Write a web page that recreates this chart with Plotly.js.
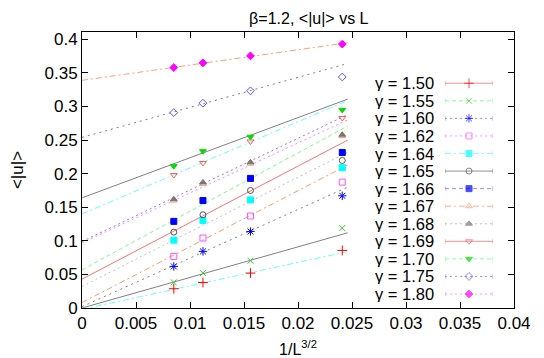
<!DOCTYPE html>
<html><head><meta charset="utf-8">
<script src="https://cdn.plot.ly/plotly-3.0.1.min.js"></script>
<style>html,body{margin:0;padding:0;background:#fff}#chart{width:544px;height:358px}</style>
</head><body><div id="chart"></div>
<script>
// ---- data ----
const gammaLabels = ['1.50','1.55','1.60','1.62','1.64','1.65','1.66','1.67','1.68','1.69','1.70','1.75','1.80'];
const invL32 = [0.0085, 0.0112, 0.0156, 0.0241];   // 1/L^{3/2} for L = 24, 20, 16, 12
const u150 = [0.0287, 0.038, 0.052, 0.0857];
const u155 = [0.0381, 0.052, 0.0704, 0.119];
const u160 = [0.0619, 0.0843, 0.114, 0.167];
const u162 = [0.0768, 0.1042, 0.137, 0.1875];
const u164 = [0.101, 0.1304, 0.161, 0.209];
const u165 = [0.113, 0.1388, 0.175, 0.2197];
const u166 = [0.129, 0.160, 0.193, 0.2316];
const u167 = [0.160, 0.185, 0.215, 0.256];
const u168 = [0.162, 0.187, 0.217, 0.258];
const u169 = [0.198, 0.216, 0.248, 0.283];
const u170 = [0.2113, 0.2336, 0.255, 0.295];
const u175 = [0.291, 0.305, 0.3234, 0.344];
const u180 = [0.358, 0.365, 0.3754, 0.393];
const seriesValues = [u150,u155,u160,u162,u164,u165,u166,u167,u168,u169,u170,u175,u180];
// linear fits: value at x=0 and at the end of the drawn segment
const fitX = [0, 0.0246];
const fitStart = [-0.002, 0.000, 0.002, 0.008, 0.032, 0.043, 0.057, 0.099, 0.097, 0.140, 0.164, 0.254, 0.339];
const fitEnd   = [0.084, 0.112, 0.180, 0.213, 0.232, 0.250, 0.271, 0.288, 0.280, 0.309, 0.311, 0.364, 0.395];
const xTickVals = [0, 0.005, 0.01, 0.015, 0.02, 0.025, 0.03, 0.035, 0.04];
const xTickText = ['0','0.005','0.01','0.015','0.02','0.025','0.03','0.035','0.04'];
const yTickVals = [0, 0.05, 0.1, 0.15, 0.2, 0.25, 0.3, 0.35, 0.4];
const yTickText = ['0','0.05','0.1','0.15','0.2','0.25','0.3','0.35','0.4'];

// ---- styles ----
const markerSymbols = ['cross-thin-open','x-thin-open','asterisk-open','square-open','square','circle-open','square','triangle-up-open','triangle-up','triangle-down-open','triangle-down','diamond-open','diamond'];
const markerColors = ['#ff0000','#33cc33','#0000ff','#ff55ff','#00ffff','#555555','#0000ff','#ff9966','#777777','#ff5555','#00dd00','#5555ff','#ff00ff'];
const markerSizes = [7,6,7,6,6,6,6,6,6,6,6,6,6];
const keyLineColors = ['#ff9090','#90ff90','#9090ff','#ff99ff','#90ffff','#909090','#9090ff','#ffb090','#c4c4c4','#ff9090','#90ff90','#9090ff','#ff99ff'];
const keyDash = ['solid','4px,3px','2px,3px','2px,3px','6px,3px,2px,3px','solid','4px,3px','6px,3px,2px,3px','2px,3px','solid','4px,3px','2px,3px','2px,3px'];
const fitColors = ['#66ffff','#808080','#808080','#ffa070','#c0c0c0','#ff7070','#80ff80','#9a70ff','#ff88ff','#66ffff','#808080','#808080','#ffa070'];
const fitDash = ['6px,3px,2px,3px','solid','2px,4px','6px,3px,2px,3px','2px,3px','solid','4px,3px','2px,3px','2px,3px','6px,3px,2px,3px','solid','2px,4px','6px,3px,2px,3px'];

const FONT = 'Liberation Sans, Arial, Helvetica, sans-serif';
const traces = [];
// fit lines
gammaLabels.forEach((g, i) => {
  traces.push({x: fitX, y: [fitStart[i], fitEnd[i]], mode: 'lines', type: 'scatter',
    line: {color: fitColors[i], width: 1, dash: fitDash[i]}, hoverinfo: 'skip', showlegend: false});
});
// data points
gammaLabels.forEach((g, i) => {
  traces.push({x: invL32, y: seriesValues[i], mode: 'markers', type: 'scatter', name: 'γ = ' + g,
    marker: {symbol: markerSymbols[i], color: markerColors[i], size: markerSizes[i], line: {color: markerColors[i], width: 1}},
    showlegend: false});
});
// key samples (drawn in a small key sub-axis, one row per series)
const keyX = [0, 0.5, 1];
gammaLabels.forEach((g, i) => {
  traces.push({x: keyX, y: keyX.map(() => i), xaxis: 'x2', yaxis: 'y2', mode: 'lines+markers', type: 'scatter',
    line: {color: keyLineColors[i], width: 1, dash: keyDash[i]},
    marker: {symbol: markerSymbols[i], color: markerColors[i], size: [0, markerSizes[i], 0], line: {color: markerColors[i], width: 1}},
    error_y: {type: 'data', array: [0.13, 0, 0.13], visible: true, width: 0, thickness: 1, color: keyLineColors[i]},
    hoverinfo: 'skip', showlegend: false});
});
const annotations = gammaLabels.map((g, i) => ({
  xref: 'x2', yref: 'y2', x: 0, y: i, xanchor: 'right', yanchor: 'middle', xshift: -10,
  height: 16, borderpad: 0,
  text: 'γ = ' + g, showarrow: false, font: {family: FONT, size: 16.5, color: '#000'}
}));

const axisCommon = {ticks: 'inside', ticklen: 6, tickcolor: '#000', tickwidth: 1, showline: true, linecolor: '#000', linewidth: 1,
  mirror: 'ticks', showgrid: false, zeroline: false, tickmode: 'array', tickfont: {family: FONT, size: 17, color: '#000'}};

const layout = {
  width: 544, height: 358,
  margin: {l: 82, r: 30, t: 32, b: 50},
  paper_bgcolor: '#fff', plot_bgcolor: 'rgba(0,0,0,0)',
  font: {family: FONT, size: 17, color: '#000'},
  showlegend: false,
  title: {text: 'β=1.2, &lt;|u|&gt; vs L', x: 0.525, xanchor: 'center', xref: 'paper', y: 0.95, yanchor: 'middle', font: {family: FONT, size: 16, color: '#000'}},
  xaxis: Object.assign({}, axisCommon, {range: [0, 0.04], tickvals: xTickVals, ticktext: xTickText,
    title: {text: '1/L<sup>3/2</sup>', standoff: 12, font: {family: FONT, size: 16}}}),
  yaxis: Object.assign({}, axisCommon, {range: [0, 0.411], tickvals: yTickVals, ticktext: yTickText,
    title: {text: '&lt;|u|&gt;', standoff: 16, font: {family: FONT, size: 17}}}),
  xaxis2: {domain: [0.8403, 0.9514], range: [0, 1], anchor: 'y2', visible: false, fixedrange: true},
  yaxis2: {domain: [0.0189, 0.8461], range: [12.5, -0.5], anchor: 'x2', visible: false, fixedrange: true},
  annotations: annotations
};
Plotly.newPlot('chart', traces, layout, {displayModeBar: false, staticPlot: true});
</script></body></html>
